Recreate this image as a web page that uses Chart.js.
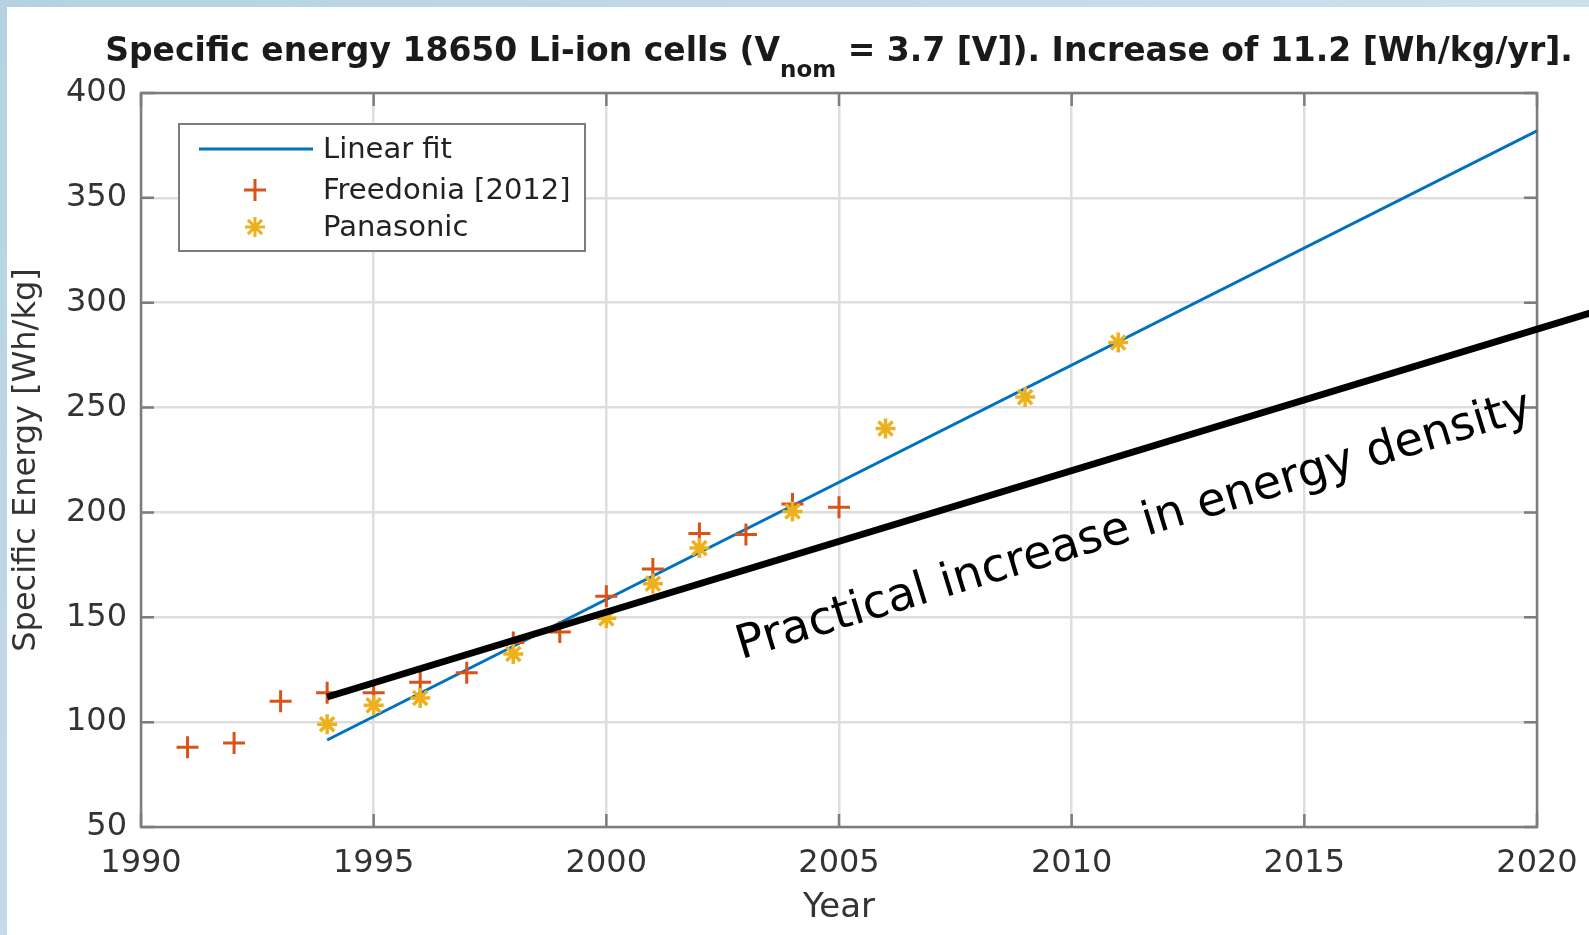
<!DOCTYPE html>
<html>
<head>
<meta charset="utf-8">
<title>Specific energy 18650 Li-ion cells</title>
<script src="https://cdn.jsdelivr.net/npm/chart.js@4.4.1/dist/chart.umd.min.js"></script>
<style>
  html, body { margin: 0; padding: 0; }
  body { width: 1589px; height: 935px; overflow: hidden; background: linear-gradient(135deg, #b5d1e3, #dbeaf3); }
  #panel { position: absolute; left: 7px; top: 7px; width: 1582px; height: 928px; background: #fff; }
  canvas { display: block; }
</style>
</head>
<body>
<div id="panel"><canvas id="chart" width="1582" height="928"></canvas></div>
<script>
// values
const freedoniaYears = [1991, 1992, 1993, 1994, 1995, 1996, 1997, 1998, 1999, 2000, 2001, 2002, 2003, 2004, 2005];
const freedoniaValues = [88, 90, 110, 114, 114, 119, 123.5, 138, 143, 160, 173, 190, 189.5, 204, 202.5];
const panasonicYears = [1994, 1995, 1996, 1998, 2000, 2001, 2002, 2004, 2006, 2009, 2011];
const panasonicValues = [99, 108, 111.5, 132.5, 149.5, 166, 183, 200.5, 240, 255, 281];
const fitYears = [1994, 2020];
const fitValues = [91.5, 382];
const practicalYears = [1994, 2021.2];
const practicalValues = [112, 295.5];
const xTicks = [1990, 1995, 2000, 2005, 2010, 2015, 2020];
const yTicks = [50, 100, 150, 200, 250, 300, 350, 400];

const FONT = '"DejaVu Sans", sans-serif';
const TXT = '#333';
const BOX = '#7d7d7d';

const pts = (xs, ys) => xs.map((x, i) => ({ x: x, y: ys[i] }));

// axes box with inward ticks on all four sides (matlab style)
const frame = {
    id: 'frame',
    beforeDatasetsDraw(chart) {
        const { ctx, chartArea: a, scales } = chart;
        const tl = 13;
        ctx.save();
        ctx.strokeStyle = BOX;
        ctx.lineWidth = 2.5;
        ctx.strokeRect(a.left, a.top, a.right - a.left, a.bottom - a.top);
        ctx.beginPath();
        xTicks.forEach(v => {
            const px = scales.x.getPixelForValue(v);
            ctx.moveTo(px, a.bottom); ctx.lineTo(px, a.bottom - tl);
            ctx.moveTo(px, a.top); ctx.lineTo(px, a.top + tl);
        });
        yTicks.forEach(v => {
            const py = scales.y.getPixelForValue(v);
            ctx.moveTo(a.left, py); ctx.lineTo(a.left + tl, py);
            ctx.moveTo(a.right, py); ctx.lineTo(a.right - tl, py);
        });
        ctx.stroke();
        ctx.restore();
    }
};

// boxed legend in the upper left corner
const legendBox = {
    id: 'legendBox',
    afterDatasetsDraw(chart) {
        const ctx = chart.ctx;
        const ds = chart.data.datasets;
        const x = 172, y = 117, w = 406, h = 127;
        ctx.save();
        ctx.fillStyle = '#fff';
        ctx.fillRect(x, y, w, h);
        ctx.strokeStyle = BOX;
        ctx.lineWidth = 2;
        ctx.strokeRect(x, y, w, h);
        ctx.font = '29px ' + FONT;
        ctx.fillStyle = '#222';
        ctx.textBaseline = 'middle';
        const rows = [y + 25, y + 66, y + 103];
        ds.slice(0, 3).forEach((d, i) => {
            if (d.showLine) {
                ctx.strokeStyle = d.borderColor;
                ctx.lineWidth = d.borderWidth;
                ctx.beginPath();
                ctx.moveTo(x + 20, rows[i]); ctx.lineTo(x + 134, rows[i]);
                ctx.stroke();
            } else {
                ctx.strokeStyle = d.borderColor;
                ctx.fillStyle = d.borderColor;
                Chart.helpers.drawPoint(ctx, { pointStyle: d.pointStyle, radius: d.pointRadius, borderWidth: d.borderWidth, rotation: 0 }, x + 76, rows[i]);
                ctx.fillStyle = '#222';
            }
            ctx.fillText(d.label, x + 144, rows[i] + 1);
        });
        ctx.restore();
    }
};

// rotated note along the black line
const note = {
    id: 'note',
    afterDatasetsDraw(chart) {
        const { ctx, scales } = chart;
        const x0 = scales.x.getPixelForValue(practicalYears[0]), y0 = scales.y.getPixelForValue(practicalValues[0]);
        const x1 = scales.x.getPixelForValue(practicalYears[1]), y1 = scales.y.getPixelForValue(practicalValues[1]);
        const ang = Math.atan2(y1 - y0, x1 - x0);
        ctx.save();
        ctx.translate(scales.x.getPixelForValue(2002.9), scales.y.getPixelForValue(130));
        ctx.rotate(ang);
        ctx.font = '46.5px ' + FONT;
        ctx.fillStyle = '#000';
        ctx.textBaseline = 'alphabetic';
        ctx.fillText('Practical increase in energy density', 0, 0);
        ctx.restore();
    }
};

// title with the V_nom subscript
const topTitle = {
    id: 'topTitle',
    afterDraw(chart) {
        const { ctx, chartArea: a } = chart;
        const big = 'bold 33px ' + FONT;
        const small = 'bold 23px ' + FONT;
        const p1 = 'Specific energy 18650 Li-ion cells (V', sub = 'nom', p2 = ' = 3.7 [V]). Increase of 11.2 [Wh/kg/yr].';
        ctx.save();
        ctx.fillStyle = '#1a1a1a';
        ctx.textBaseline = 'alphabetic';
        ctx.font = big;
        const w1 = ctx.measureText(p1).width, w2 = ctx.measureText(p2).width;
        ctx.font = small;
        const ws = ctx.measureText(sub).width;
        let x = (a.left + a.right) / 2 - (w1 + ws + w2) / 2;
        const base = 54;
        ctx.font = big;
        ctx.fillText(p1, x, base);
        x += w1;
        ctx.font = small;
        ctx.fillText(sub, x, base + 16);
        x += ws;
        ctx.font = big;
        ctx.fillText(p2, x, base);
        ctx.restore();
    }
};

new Chart(document.getElementById('chart'), {
    type: 'scatter',
    data: {
        datasets: [
            { label: 'Linear fit', type: 'line', data: pts(fitYears, fitValues), showLine: true, borderColor: '#0072BD', borderWidth: 3, pointRadius: 0, order: 3 },
            { label: 'Freedonia [2012]', data: pts(freedoniaYears, freedoniaValues), showLine: false, pointStyle: 'cross', pointRadius: 11, borderColor: '#D95319', backgroundColor: '#D95319', borderWidth: 3, order: 2 },
            { label: 'Panasonic', data: pts(panasonicYears, panasonicValues), showLine: false, pointStyle: 'star', pointRadius: 10, borderColor: '#EDB120', backgroundColor: '#EDB120', borderWidth: 3.5, order: 1 },
            { label: 'Practical', type: 'line', data: pts(practicalYears, practicalValues), showLine: true, borderColor: '#000', borderWidth: 7, pointRadius: 0, clip: false, order: 0 }
        ]
    },
    options: {
        responsive: false,
        animation: false,
        devicePixelRatio: 1,
        layout: { padding: { top: 86, right: 52, left: 0, bottom: 0 } },
        plugins: { legend: { display: false }, tooltip: { enabled: false } },
        scales: {
            x: {
                type: 'linear', min: 1990, max: 2020,
                afterBuildTicks: s => { s.ticks = xTicks.map(v => ({ value: v })); },
                afterFit: s => { s.height = 108; s.paddingLeft = 0; s.paddingRight = 0; },
                ticks: { color: TXT, font: { family: FONT, size: 32 }, padding: 17, maxRotation: 0, autoSkip: false, callback: v => String(v) },
                grid: { color: '#dedede', lineWidth: 2.5, drawTicks: false },
                border: { display: false },
                title: { display: true, text: 'Year', color: TXT, font: { family: FONT, size: 34 }, padding: { top: 0, bottom: 6 } }
            },
            y: {
                type: 'linear', min: 50, max: 400,
                afterBuildTicks: s => { s.ticks = yTicks.map(v => ({ value: v })); },
                afterFit: s => { s.width = 134; s.paddingTop = 0; s.paddingBottom = 0; },
                ticks: { color: TXT, font: { family: FONT, size: 32 }, padding: 14, autoSkip: false, callback: v => String(v) },
                grid: { color: '#dedede', lineWidth: 2.5, drawTicks: false },
                border: { display: false },
                title: { display: true, text: 'Specific Energy [Wh/kg]', color: TXT, font: { family: FONT, size: 32 }, padding: { top: 0, bottom: 0 } }
            }
        }
    },
    plugins: [frame, legendBox, note, topTitle]
});
</script>
</body>
</html>
